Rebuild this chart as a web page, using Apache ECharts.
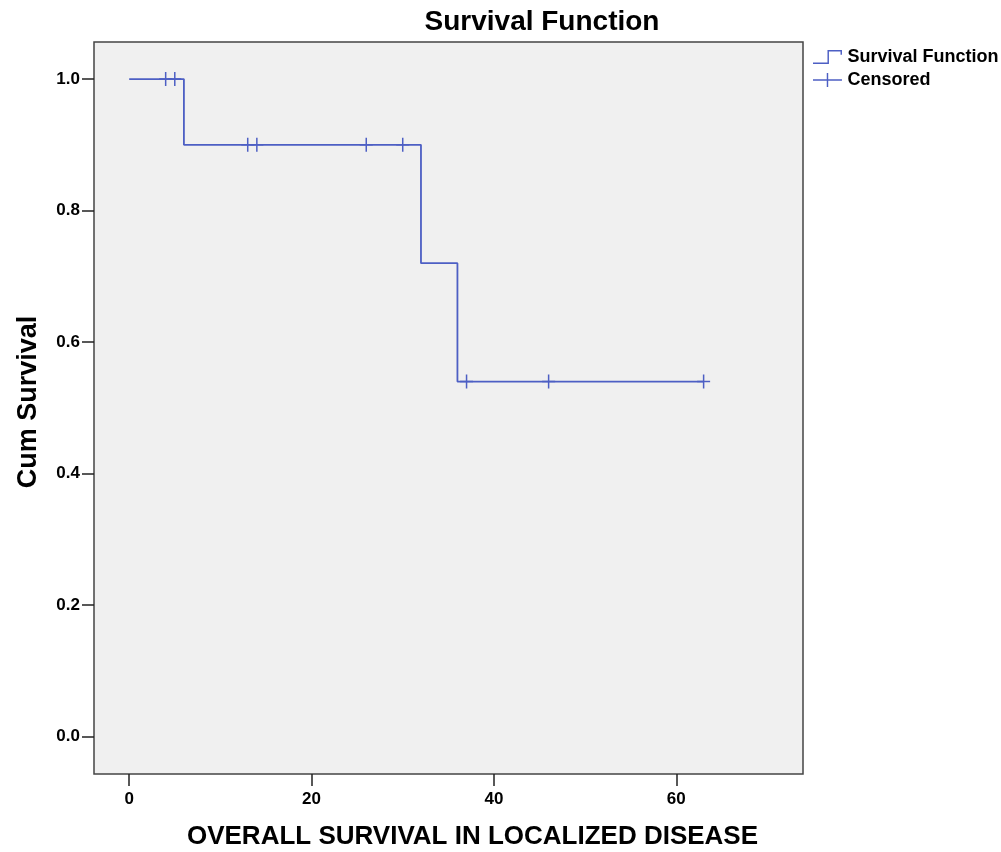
<!DOCTYPE html>
<html>
<head>
<meta charset="utf-8">
<script src="https://cdn.jsdelivr.net/npm/echarts@6/dist/echarts.min.js"></script>
<style>
  html, body { margin: 0; padding: 0; background: #fff; }
  #chart { width: 1001px; height: 852px; }
</style>
</head>
<body>
<div id="chart"></div>
<script>
// Kaplan-Meier steps: time and cumulative survival
const stepTimes = [0, 6, 32, 36, 63];
const stepSurvival = [1.0, 0.9, 0.72, 0.54, 0.54];
// censored observations
const censorTimes = [4, 5, 13, 14, 26, 30, 37, 46, 63];
const censorSurvival = [1.0, 1.0, 0.9, 0.9, 0.9, 0.9, 0.54, 0.54, 0.54];
// tick labels
const xTicks = [0, 20, 40, 60];
const yTicks = [0, 0.2, 0.4, 0.6, 0.8, 1.0];

const lineColor = "#4d5fc4";
const font = "'Liberation Sans', Arial, sans-serif";

const chart = echarts.init(document.getElementById("chart"));

chart.setOption({
  animation: false,
  backgroundColor: "#fff",
  textStyle: { fontFamily: font },
  title: {
    text: "Survival Function",
    left: 537,
    textAlign: "center",
    top: 3,
    textStyle: { fontSize: 28, fontWeight: "bold", color: "#000", fontFamily: font },
  },
  legend: {
    orient: "vertical",
    left: 808,
    top: 43,
    itemWidth: 30,
    itemHeight: 14,
    itemGap: 5,
    textStyle: { fontSize: 18, fontWeight: "bold", color: "#000", fontFamily: font },
    data: [
      {
        name: "Survival Function",
        icon: "path://M0,13 L15,13 L15,0 L30,0 L30,5 L28.5,5 L28.5,1.5 L16.5,1.5 L16.5,14.5 L0,14.5 Z",
      },
      {
        name: "Censored",
        icon: "path://M0,6.5 L30,6.5 L30,8 L0,8 Z M14.25,0 L15.75,0 L15.75,14.5 L14.25,14.5 Z",
      },
    ],
  },
  grid: {
    left: 94,
    right: 198,
    top: 42,
    bottom: 78,
    containLabel: false,
    outerBoundsMode: "none",
    show: true,
    backgroundColor: "#f0f0f0",
    borderColor: "#444",
    borderWidth: 1.5,
  },
  xAxis: {
    type: "value",
    min: -3.86,
    max: 73.9,
    name: "OVERALL SURVIVAL IN LOCALIZED DISEASE",
    nameLocation: "middle",
    nameGap: 50,
    nameTextStyle: { fontSize: 26, fontWeight: "bold", color: "#000", padding: [0, 0, 0, 48], fontFamily: font },
    axisLine: { show: false, onZero: false },
    splitLine: { show: false },
    axisTick: { show: true, length: 12, customValues: xTicks, lineStyle: { color: "#222", width: 1.5 } },
    axisLabel: {
      customValues: xTicks,
      margin: 17,
      fontSize: 17,
      fontWeight: "bold",
      color: "#000",
    },
  },
  yAxis: {
    type: "value",
    min: -0.0567,
    max: 1.0563,
    name: "Cum Survival",
    nameLocation: "middle",
    nameRotate: 90,
    nameGap: 52,
    nameTextStyle: { fontSize: 27, fontWeight: "bold", color: "#000", padding: [0, 0, 0, 12], fontFamily: font },
    axisLine: { show: false, onZero: false },
    splitLine: { show: false },
    axisTick: { show: true, length: 12, customValues: yTicks, lineStyle: { color: "#222", width: 1.5 } },
    axisLabel: {
      customValues: yTicks,
      margin: 14,
      fontSize: 17,
      fontWeight: "bold",
      color: "#000",
      formatter: (v) => v.toFixed(1),
    },
  },
  series: [
    {
      name: "Survival Function",
      type: "line",
      step: "end",
      symbol: "none",
      color: lineColor,
      lineStyle: { color: lineColor, width: 1.8 },
      data: stepTimes.map((t, i) => [t, stepSurvival[i]]),
    },
    {
      name: "Censored",
      type: "scatter",
      symbol: "path://M0,6.25 L13,6.25 L13,7.75 L0,7.75 Z M5.75,0 L7.25,0 L7.25,14 L5.75,14 Z",
      symbolSize: [13, 14],
      color: lineColor,
      itemStyle: { color: lineColor, opacity: 1 },
      data: censorTimes.map((t, i) => [t, censorSurvival[i]]),
    },
  ],
});
</script>
</body>
</html>
